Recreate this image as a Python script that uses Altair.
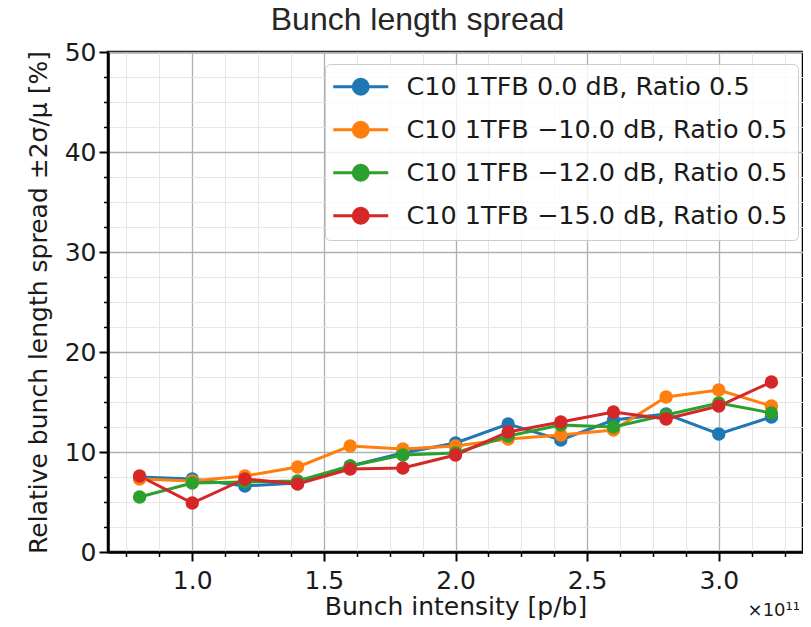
import altair as alt
import pandas as pd

# ---- data (intensity in units of 1e11 p/b) ----
intensity = [0.8, 1.0, 1.2, 1.4, 1.6, 1.8, 2.0, 2.2, 2.4, 2.6, 2.8, 3.0, 3.2]
series_names = [
    "C10 1TFB 0.0 dB, Ratio 0.5",
    "C10 1TFB \u221210.0 dB, Ratio 0.5",
    "C10 1TFB \u221212.0 dB, Ratio 0.5",
    "C10 1TFB \u221215.0 dB, Ratio 0.5",
]
spread_0db = [7.5, 7.3, 6.6, 6.9, 8.6, 9.9, 10.9, 12.8, 11.2, 13.2, 13.8, 11.8, 13.5]
spread_m10db = [7.3, 7.1, 7.6, 8.5, 10.6, 10.3, 10.6, 11.3, 11.7, 12.2, 15.5, 16.2, 14.6]
spread_m12db = [5.5, 6.9, 7.0, 7.1, 8.6, 9.7, 9.9, 11.6, 12.7, 12.5, 13.7, 14.9, 13.9]
spread_m15db = [7.6, 4.9, 7.3, 6.8, 8.3, 8.4, 9.7, 12.0, 13.0, 14.0, 13.3, 14.6, 17.0]
colors = ["#1f77b4", "#ff7f0e", "#2ca02c", "#d62728"]

x_major = [1.0, 1.5, 2.0, 2.5, 3.0]
x_minor = [0.75, 0.875, 1.125, 1.25, 1.375, 1.625, 1.75, 1.875, 2.125, 2.25, 2.375,
           2.625, 2.75, 2.875, 3.125, 3.25]
y_major = [0, 10, 20, 30, 40, 50]
y_minor = [2.5, 5, 7.5, 12.5, 15, 17.5, 22.5, 25, 27.5, 32.5, 35, 37.5, 42.5, 45, 47.5]
offset_text = ["\u00d710\u00b9\u00b9"]

rows = []
for name, vals in zip(series_names, [spread_0db, spread_m10db, spread_m12db, spread_m15db]):
    for xv, yv in zip(intensity, vals):
        rows.append({"intensity": xv, "spread": yv, "series": name})
df = pd.DataFrame(rows)

W, H = 695, 500
FONT = "DejaVu Sans"
TXT = "#1a1a1a"

x_scale = alt.Scale(domain=[0.68, 3.32], nice=False, zero=False)
y_scale = alt.Scale(domain=[0, 50], nice=False, zero=False)

minor = alt.Chart(df).mark_point(opacity=0).encode(
    x=alt.X("intensity:Q", scale=x_scale,
            axis=alt.Axis(values=x_minor, orient="bottom", grid=True, gridColor="#e6e6e6",
                          gridWidth=1, labels=False, ticks=True, tickSize=4.5, tickWidth=1.5,
                          tickColor="black", domain=False, title=None)),
    y=alt.Y("spread:Q", scale=y_scale,
            axis=alt.Axis(values=y_minor, orient="left", grid=True, gridColor="#e6e6e6",
                          gridWidth=1, labels=False, ticks=True, tickSize=4.5, tickWidth=1.5,
                          tickColor="black", domain=False, title=None)),
)

legend_path = "M-5.5,0H5.5M1.5,0A1.5,1.5,0,1,1,-1.5,0A1.5,1.5,0,1,1,1.5,0Z"

main = alt.Chart(df).mark_line(
    strokeWidth=3,
    point=alt.OverlayMarkDef(filled=True, size=180, opacity=1),
).encode(
    x=alt.X("intensity:Q", scale=x_scale,
            axis=alt.Axis(values=x_major, format=".1f", orient="bottom", grid=True,
                          gridColor="#b0b0b0", gridWidth=1.3, tickSize=9, tickWidth=2,
                          tickColor="black", domain=True, domainColor="black", domainWidth=2.5,
                          labelFont=FONT, labelFontSize=25, labelColor=TXT,
                          labelBaseline="alphabetic", labelPadding=27,
                          title="Bunch intensity [p/b]", titleFont=FONT, titleFontSize=25,
                          titleFontWeight="normal", titleColor=TXT,
                          titleBaseline="alphabetic", titleY=62)),
    y=alt.Y("spread:Q", scale=y_scale,
            axis=alt.Axis(values=y_major, format="d", orient="left", grid=True,
                          gridColor="#b0b0b0", gridWidth=1.3, tickSize=9, tickWidth=2,
                          tickColor="black", domain=True, domainColor="black", domainWidth=2.5,
                          labelFont=FONT, labelFontSize=25, labelColor=TXT, labelPadding=3,
                          title="Relative bunch length spread \u00b12\u03c3/\u03bc [%]",
                          titleFont=FONT, titleFontSize=25, titleFontWeight="normal",
                          titleColor=TXT, titleBaseline="middle", titleX=-70, titleY=H / 2)),
    color=alt.Color("series:N",
                    scale=alt.Scale(domain=series_names, range=colors),
                    legend=alt.Legend(title=None, orient="none", legendX=217, legendY=12,
                                      symbolType=legend_path, symbolSize=100,
                                      symbolStrokeWidth=3, symbolOffset=13,
                                      labelOffset=33, labelFont=FONT, labelFontSize=25.5,
                                      labelColor=TXT, labelLimit=700, padding=10,
                                      rowPadding=15, strokeColor="#cccccc",
                                      fillColor="rgba(255,255,255,0.8)", cornerRadius=5)),
)

annot = alt.Chart(pd.DataFrame({"t": offset_text})).mark_text(
    font=FONT, fontSize=18, color=TXT, align="right", baseline="alphabetic"
).encode(x=alt.value(692), y=alt.value(564), text="t:N")

chart = alt.layer(minor, main, annot).resolve_axis(
    x="independent", y="independent"
).properties(
    width=W, height=H,
    autosize=alt.AutoSizeParams(type="none"),
    padding={"left": 100, "top": 44, "right": 0, "bottom": 68},
    title=alt.Title("Bunch length spread", font="Liberation Sans", fontSize=32,
                    fontWeight="normal", color="#262626", anchor="middle",
                    frame="group", dx=-38, offset=3),
).configure_view(stroke="black", strokeWidth=2.5)

chart.save("out.html", embed_options={"renderer": "svg", "actions": False})
